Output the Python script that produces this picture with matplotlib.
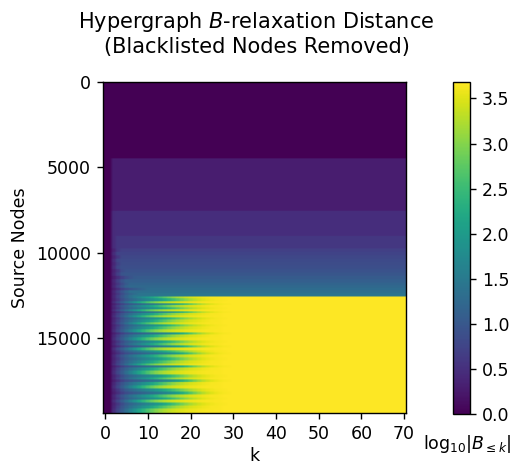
import numpy as np
import matplotlib
matplotlib.use("Agg")
import matplotlib.pyplot as plt

# heatmap size: source nodes (rows) x k (columns)
n_nodes = 19420
n_k = 71
level_max = 3.68

# log10|B<=k| along k for the four kinds of rows seen in the picture
profile_fast = [0, 0, 0.45, 0.78, 1.06, 1.33, 1.6, 1.88, 2.15, 2.4, 2.62, 2.82, 2.99,
                3.13, 3.24, 3.33, 3.4, 3.46, 3.5, 3.54, 3.57, 3.59, 3.61, 3.625,
                3.64, 3.65, 3.66, 3.665, 3.67, 3.673, 3.676, 3.678]
profile_med = [0, 0, 0.4, 0.7, 0.95, 1.16, 1.35, 1.52, 1.68, 1.84, 2.0, 2.18, 2.36,
               2.55, 2.73, 2.9, 3.05, 3.18, 3.29, 3.38, 3.45, 3.5, 3.55, 3.59,
               3.62, 3.64, 3.65, 3.66, 3.67, 3.675, 3.678]
profile_slow = [0, 0, 0.35, 0.6, 0.85, 1.05, 1.2, 1.32, 1.44, 1.56, 1.68, 1.8,
                1.93, 2.07, 2.22, 2.38, 2.55, 2.72, 2.9, 3.06, 3.2, 3.32, 3.42,
                3.5, 3.56, 3.6, 3.63, 3.65, 3.665, 3.675, 3.678]
profile_vslow = [0, 0, 0.3, 0.5, 0.7, 0.85, 0.95, 1.04, 1.12, 1.2, 1.28, 1.36,
                 1.45, 1.55, 1.66, 1.78, 1.92, 2.08, 2.26, 2.46, 2.68, 2.9, 3.1,
                 3.27, 3.4, 3.5, 3.57, 3.62, 3.65, 3.665, 3.675, 3.678]
profiles = [profile_fast, profile_med, profile_slow, profile_vslow]

# upper part: row bands with a plateau value
upper_start = [0, 4530, 7600, 9070, 9800, 10000, 10200, 10400, 10600, 10800,
               11000, 11200, 11400, 11600, 11800, 11950, 12100, 12250, 12400, 12520]
upper_level = [0.0, 0.30, 0.48, 0.60, 0.70, 0.74, 0.78, 0.82, 0.86, 0.89,
               0.93, 0.99, 1.05, 1.11, 1.18, 1.24, 1.30, 1.35, 1.41, 1.46]
upper_kind = [0, 0, 0, 0, 2, 0, 2, 0, 1, 0,
              2, 1, 3, 1, 2, 1, 3, 1, 2, 1]

# lower part: rows that saturate at the maximum, streaked by kind
lower_start = [12610, 12710, 12890, 13010, 13100, 13240, 13360, 13480, 13570, 13710,
               13830, 13950, 14120, 14240, 14360, 14530, 14710, 14830, 15000, 15180,
               15330, 15470, 15590, 15760, 15880, 16000, 16170, 16350, 16530, 16640,
               16760, 16940, 17170, 17350, 17460, 17610, 17810, 17990, 18170, 18340,
               18520, 18640, 18810, 18990, 19160]
lower_kind = [1, 2, 0, 3, 1, 2, 0, 3, 1, 0,
              2, 1, 0, 2, 1, 0, 3, 1, 0, 2,
              1, 3, 0, 2, 3, 1, 2, 1, 0, 3,
              1, 0, 2, 1, 3, 1, 0, 2, 3, 1,
              2, 0, 2, 1, 0]

band_start = upper_start + lower_start
band_level = upper_level + [level_max] * len(lower_start)
band_kind = upper_kind + lower_kind

Z = np.zeros((n_nodes, n_k))
band_end = band_start[1:] + [n_nodes]
for s, e, lev, kind in zip(band_start, band_end, band_level, band_kind):
    prof = profiles[kind] + [level_max] * (n_k - len(profiles[kind]))
    Z[s:e] = np.minimum(np.array(prof), lev)

fig = plt.figure(figsize=(513 / 125, 463 / 125), dpi=125)
ax = fig.add_axes([0.2012, 0.1073, 0.5906, 0.7156])
im = ax.imshow(Z, aspect='auto', cmap='viridis', vmin=0, vmax=level_max)
ax.set_xticks(np.arange(0, 71, 10))
ax.set_yticks([0, 5000, 10000, 15000])
ax.set_xlabel('k', labelpad=2)
ax.set_ylabel('Source Nodes')

cax = fig.add_axes([0.8836, 0.1058, 0.0326, 0.7166])
cbar = fig.colorbar(im, cax=cax)
cbar.set_ticks(np.arange(0, 3.6, 0.5))
cax.set_xlabel(r'$\mathrm{log}_{10}|B_{\leq k}|$', labelpad=11)
cax.xaxis.label.set_x(0.86)

fig.suptitle('Hypergraph $B$-relaxation Distance\n(Blacklisted Nodes Removed)',
             y=0.978)

fig.savefig('out.png', dpi=125)
